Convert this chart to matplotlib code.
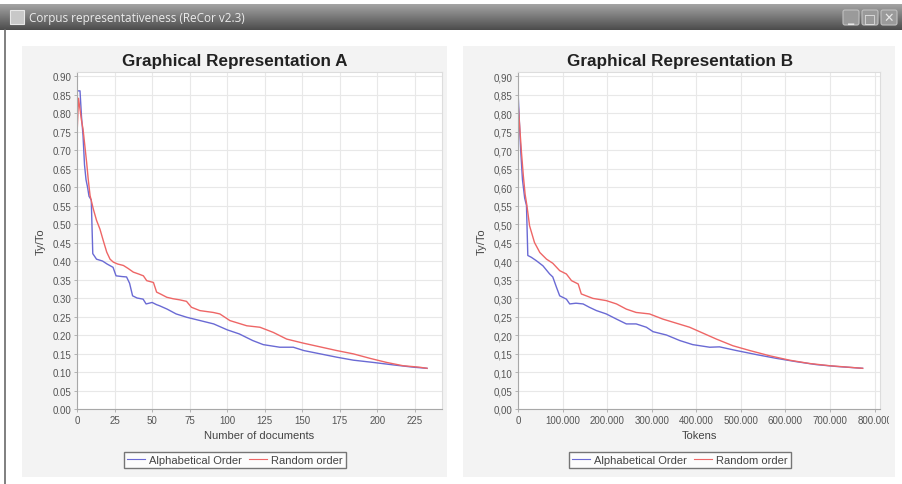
import numpy as np
import matplotlib
matplotlib.use("Agg")
import matplotlib.pyplot as plt
import matplotlib.patches as patches
from matplotlib.ticker import MultipleLocator, FuncFormatter
from matplotlib.lines import Line2D
from matplotlib.transforms import Bbox

plt.rcParams['font.family'] = ['Liberation Sans', 'DejaVu Sans']

# Graphical Representation A: Ty/To against number of documents
alpha_doc_x = [1, 2, 3, 4, 5, 6, 7, 8, 9.5, 10.5, 13, 17, 20, 24, 26, 30, 33, 35, 37, 40,
               44, 46, 50, 53, 55, 60, 66, 73, 82, 91, 100, 108, 117, 124, 135, 144, 151,
               162, 173, 184, 197, 211, 224, 233]
alpha_doc_y = [0.86, 0.86, 0.79, 0.74, 0.66, 0.62, 0.60, 0.575, 0.565, 0.42, 0.405, 0.40,
               0.392, 0.383, 0.36, 0.358, 0.357, 0.34, 0.306, 0.30, 0.297, 0.284, 0.288,
               0.282, 0.279, 0.27, 0.257, 0.248, 0.239, 0.23, 0.214, 0.203, 0.185, 0.174,
               0.167, 0.167, 0.158, 0.149, 0.14, 0.132, 0.126, 0.119, 0.113, 0.110]
rand_doc_x = [0, 1, 2, 3, 4, 5, 6.4, 7.5, 8.7, 10.9, 13, 15.3, 17.5, 19.8, 22, 24.2, 27,
              30.9, 34, 37.5, 41, 44.2, 46.4, 50.9, 53, 56, 59.8, 64, 68.5, 72.9, 76.2,
              81.8, 90.7, 95.1, 101.8, 113, 121.8, 130.7, 139.6, 150.7, 161.8, 172.9, 184,
              195, 206, 217, 228, 233]
rand_doc_y = [0.74, 0.84, 0.81, 0.78, 0.757, 0.72, 0.667, 0.62, 0.577, 0.54, 0.51, 0.486,
              0.455, 0.424, 0.405, 0.397, 0.392, 0.388, 0.38, 0.37, 0.365, 0.36, 0.347,
              0.342, 0.316, 0.31, 0.302, 0.298, 0.295, 0.291, 0.275, 0.266, 0.261, 0.257,
              0.239, 0.225, 0.221, 0.207, 0.189, 0.178, 0.168, 0.158, 0.149, 0.137, 0.126,
              0.117, 0.113, 0.110]

# Graphical Representation B: Ty/To against tokens (thousands)
alpha_tok_x = [0, 3, 6, 10, 15, 19, 22, 30, 41, 56, 71, 78, 86, 93.5, 108.5, 116, 130, 146,
               160, 176, 198, 221, 243, 265, 288, 303, 333, 363, 392, 430, 452, 490, 535,
               579, 624, 669, 714, 773]
alpha_tok_y = [0.86, 0.78, 0.70, 0.62, 0.57, 0.55, 0.415, 0.41, 0.401, 0.387, 0.365, 0.357,
               0.33, 0.306, 0.297, 0.284, 0.286, 0.284, 0.275, 0.266, 0.257, 0.243, 0.23,
               0.23, 0.221, 0.209, 0.2, 0.185, 0.174, 0.167, 0.168, 0.158, 0.147, 0.137,
               0.128, 0.12, 0.115, 0.110]
rand_tok_x = [0, 4, 8, 12, 16, 20, 26, 37, 49, 64, 78, 93.5, 108.5, 120, 135, 142, 168, 198,
              221, 243, 265, 295, 325, 355, 385, 415, 445, 482, 520, 564, 609, 654, 699, 773]
rand_tok_y = [0.83, 0.76, 0.69, 0.63, 0.58, 0.55, 0.495, 0.45, 0.423, 0.405, 0.394, 0.374,
              0.365, 0.347, 0.338, 0.311, 0.299, 0.293, 0.284, 0.27, 0.261, 0.257, 0.243,
              0.232, 0.221, 0.205, 0.189, 0.171, 0.158, 0.144, 0.132, 0.123, 0.117, 0.110]

series_names = ["Alphabetical Order", "Random order"]
window_title = "Corpus representativeness (ReCor v2.3)"

W, H = 902, 485
BLUE = "#6a6ad4"
RED = "#ee6666"


def px_rect(x0, y0, x1, y1):
    return [x0 / W, 1 - y1 / H, (x1 - x0) / W, (y1 - y0) / H]


fig = plt.figure(figsize=(W / 100, H / 100), dpi=100)
fig.patch.set_facecolor("white")

# window chrome drawn in pixel coordinates
bg = fig.add_axes([0, 0, 1, 1])
bg.set_xlim(0, W)
bg.set_ylim(H, 0)
bg.axis("off")
grad = np.linspace(0, 1, 50).reshape(-1, 1)
bg.imshow(grad, cmap=matplotlib.colors.LinearSegmentedColormap.from_list("tb", ["#a4a4a4", "#4c4c4c"]),
          extent=(0, W, 31, 5), aspect="auto")
bg.add_patch(patches.Rectangle((10, 11), 14, 14, facecolor="#c8c8c8", edgecolor="#e8e8e8", lw=0.8))
bg.text(29, 18.5, window_title, color="#ececec", fontsize=8.5, va="center", family=["Open Sans", "DejaVu Sans"])
for bx, glyph in zip([843, 862, 881], ["_", "□", "✕"]):
    bg.add_patch(patches.FancyBboxPatch((bx, 11), 16, 15, boxstyle="round,pad=0,rounding_size=2",
                                        facecolor="#9a9a9a", edgecolor="#c0c0c0", lw=0.8))
    bg.text(bx + 8, 18.5, glyph, color="#e8e8e8", fontsize=9, fontweight="bold",
            ha="center", va="center", family=["DejaVu Sans"])
bg.plot([5, 5], [31, H], color="#6a6a6a", lw=1.2)
bg.add_patch(patches.Rectangle((22, 47), 425, 431, facecolor="#f3f3f3", edgecolor="none"))
bg.add_patch(patches.Rectangle((463, 47), 432, 431, facecolor="#f3f3f3", edgecolor="none"))


def draw_chart(rect, title, xs, ys, xlabel, xmax, xstep, fmt, center_x):
    ax = fig.add_axes(px_rect(*rect))
    ax.set_facecolor("white")
    for x, y, c in zip(xs, ys, [BLUE, RED]):
        ax.plot(x, y, color=c, lw=1.0)
    ax.set_xlim(0, xmax)
    ax.set_ylim(0, 0.911)
    ax.xaxis.set_major_locator(MultipleLocator(xstep))
    ax.yaxis.set_major_locator(MultipleLocator(0.05))
    ax.xaxis.set_major_formatter(FuncFormatter(fmt[0]))
    ax.yaxis.set_major_formatter(FuncFormatter(fmt[1]))
    ax.grid(True, color="#e8e8e8", lw=0.8)
    ax.set_axisbelow(True)
    for side in ["top", "right"]:
        ax.spines[side].set_color("#dddddd")
        ax.spines[side].set_linewidth(0.8)
    for side in ["left", "bottom"]:
        ax.spines[side].set_color("#a8a8a8")
        ax.spines[side].set_linewidth(0.8)
    ax.tick_params(labelsize=7, labelcolor="#555555", color="#a8a8a8", length=2, width=0.6, pad=2)
    ax.set_title(title, fontsize=12.3, fontweight="bold", color="#222222", pad=5,
                 x=(center_x - rect[0]) / (rect[2] - rect[0]))
    ax.set_xlabel(xlabel, fontsize=8, color="#444444", labelpad=4)
    ax.set_ylabel("Ty/To", fontsize=8, color="#444444", labelpad=5)
    handles = [Line2D([], [], color=c, lw=0.8) for c in [BLUE, RED]]
    fig.legend(handles, series_names, loc="center", bbox_to_anchor=(center_x / W, 1 - 461 / H),
               ncol=2, fontsize=8, frameon=True, fancybox=False, edgecolor="#555555",
               handlelength=1.6, handletextpad=0.4, columnspacing=0.6, borderpad=0.3,
               labelcolor="#444444")
    return ax


doc_fmt = (lambda v, p: "%d" % v, lambda v, p: "%.2f" % v)
tok_fmt = (lambda v, p: "0" if v == 0 else "{:,}".format(int(round(v * 1000))).replace(",", "."),
           lambda v, p: ("%.2f" % v).replace(".", ","))

draw_chart((77, 73, 442, 410), "Graphical Representation A", [alpha_doc_x, rand_doc_x],
           [alpha_doc_y, rand_doc_y], "Number of documents", 243, 25, doc_fmt, 235)
axb = draw_chart((518, 73, 880, 410), "Graphical Representation B", [alpha_tok_x, rand_tok_x],
                 [alpha_tok_y, rand_tok_y], "Tokens", 812, 100, tok_fmt, 680)

# the panel cuts off the last tick label on the right
clip = Bbox.from_extents(463, 0, 889, H)
for lab in axb.get_xticklabels():
    lab.set_clip_box(clip)
    lab.set_clip_on(True)

fig.savefig("out.png", dpi=100)
